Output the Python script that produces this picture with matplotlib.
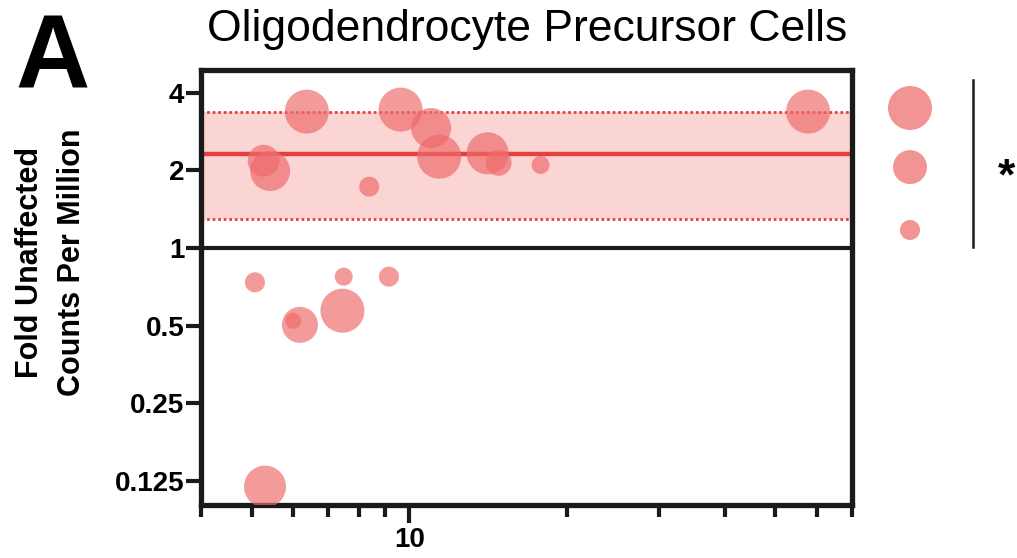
import matplotlib
matplotlib.use("Agg")
import matplotlib.pyplot as plt
from matplotlib.lines import Line2D
from matplotlib.ticker import FixedLocator, FixedFormatter, NullFormatter

# ---------------- data ----------------
title = "Oligodendrocyte Precursor Cells"
panel_letter = "A"
y_label = "Fold Unaffected\nCounts Per Million"
significance = "*"

x_major_ticks = [10]
x_major_labels = ["10"]
x_minor_ticks = [4, 5, 6, 7, 8, 9, 20, 30, 40, 50, 60, 70]
y_ticks = [0.125, 0.25, 0.5, 1, 2, 4]
y_tick_labels = ["0.125", "0.25", "0.5", "1", "2", "4"]

# bubble x (log), fold value (log2), bubble size (relative units)
bubble_x = [6.37, 5.27, 5.42, 8.38, 9.62, 11.0, 11.4, 14.1, 14.8, 17.8, 57.7,
            5.07, 7.49, 9.14, 7.45, 6.18, 6.0, 5.30]
bubble_y = [3.38, 2.18, 1.99, 1.73, 3.44, 2.92, 2.26, 2.33, 2.14, 2.10, 3.38,
            0.737, 0.775, 0.775, 0.572, 0.504, 0.523, 0.119]
bubble_size = [22, 16, 20, 10, 22, 20, 22, 21, 13, 9, 22,
               10, 9, 10, 22, 18, 8, 21]

band_lower = 1.30
band_mean = 2.32
band_upper = 3.38

legend_sizes = [22, 17, 10]

# ---------------- style ----------------
DPI = 100
W, H = 1017, 558
bubble_color = "#EE6B6B"
band_color = "#FBD4D4"
line_color = "#E2413F"
FONT = "Liberation Sans"


def size_to_area(v):
    # v is a radius in pixels -> scatter area in points^2
    r_pt = v * 72.0 / DPI
    return (2 * r_pt) ** 2


fig = plt.figure(figsize=(W / DPI, H / DPI), dpi=DPI)
fig.patch.set_facecolor("white")

ax_l, ax_r = 201 / W, 852 / W
ax_t, ax_b = 1 - 70 / H, 1 - 505 / H
ax = fig.add_axes([ax_l, ax_b, ax_r - ax_l, ax_t - ax_b])

ax.set_xscale("log")
ax.set_yscale("log", base=2)
ax.set_xlim(4, 70)
ax.set_ylim(0.101, 4.9)

ax.axhspan(band_lower, band_upper, color=band_color, lw=0, zorder=1)
ax.axhline(band_upper, color=line_color, lw=2.0, ls=(0, (1, 1)), zorder=2)
ax.axhline(band_lower, color=line_color, lw=2.0, ls=(0, (1, 1)), zorder=2)
ax.axhline(band_mean, color=line_color, lw=3.2, zorder=2)
ax.axhline(1, color="#1a1a1a", lw=3.0, zorder=3)

ax.scatter(bubble_x, bubble_y, s=[size_to_area(v) for v in bubble_size],
           color=bubble_color, alpha=0.68, lw=0, zorder=4)

for sp in ax.spines.values():
    sp.set_linewidth(3.8)
    sp.set_color("#1a1a1a")

ax.xaxis.set_major_locator(FixedLocator(x_major_ticks))
ax.xaxis.set_major_formatter(FixedFormatter(x_major_labels))
ax.xaxis.set_minor_locator(FixedLocator(x_minor_ticks))
ax.xaxis.set_minor_formatter(NullFormatter())
ax.yaxis.set_major_locator(FixedLocator(y_ticks))
ax.yaxis.set_major_formatter(FixedFormatter(y_tick_labels))
ax.yaxis.set_minor_locator(FixedLocator([]))

ax.tick_params(axis="x", which="major", direction="out", length=13, width=3.0,
               color="#1a1a1a", pad=3)
ax.tick_params(axis="x", which="minor", direction="out", length=8.5, width=3.0,
               color="#1a1a1a")
ax.tick_params(axis="y", which="major", direction="out", length=11, width=3.0,
               color="#1a1a1a", pad=1)
for lab in ax.get_xticklabels() + ax.get_yticklabels():
    lab.set_fontfamily(FONT)
    lab.set_fontweight("bold")
    lab.set_fontsize(20)

# title and labels
fig.text(527 / W, 1 - 41 / H, title, ha="center", va="baseline",
         fontsize=32, family=FONT)
fig.text(53 / W, 1 - 87 / H, panel_letter, ha="center", va="baseline",
         fontsize=74, family=FONT, weight="bold")
fig.text(51 / W, 1 - 262 / H, y_label, rotation=90, ha="center", va="center",
         fontsize=22, family=FONT, weight="bold", linespacing=1.5)

# size legend
leg_ax = fig.add_axes([870 / W, 1 - 260 / H, 80 / W, 190 / H])
leg_ax.set_xlim(0, 1)
leg_ax.set_ylim(0, 1)
leg_ax.axis("off")
leg_ax.scatter([0.5] * len(legend_sizes), [0.8, 0.489, 0.158],
               s=[size_to_area(v) for v in legend_sizes],
               color=bubble_color, alpha=0.72, lw=0)

fig.add_artist(Line2D([973 / W, 973 / W], [1 - 80 / H, 1 - 247 / H],
                      transform=fig.transFigure, color="#1a1a1a", lw=1.8))
fig.text(1006 / W, 1 - 178 / H, significance, ha="center", va="center",
         fontsize=32, family=FONT, weight="bold")

fig.savefig("out.png", dpi=DPI, facecolor="white")
